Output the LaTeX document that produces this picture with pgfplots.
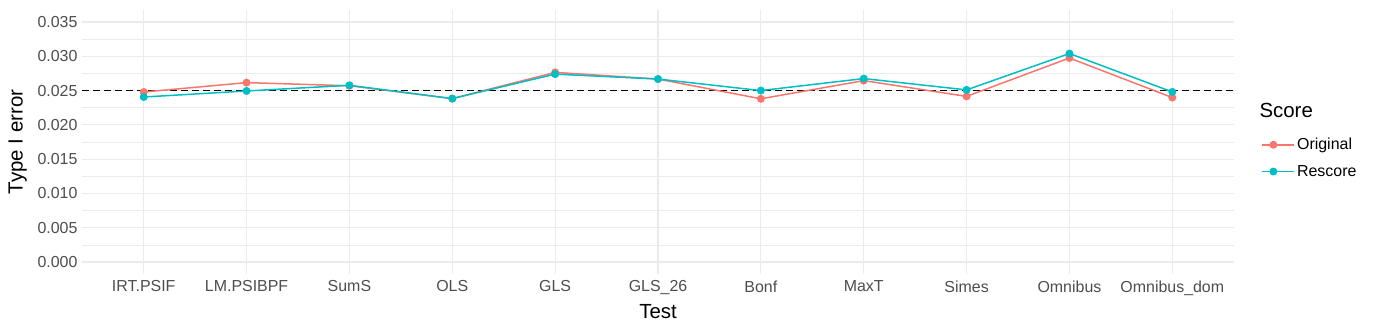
\documentclass[border=0pt]{standalone}
\usepackage{pgfplots}
\pgfplotsset{compat=1.18}
\usepackage{fontspec}
\setmainfont{Liberation Sans}
\definecolor{orig}{HTML}{F8766D}
\definecolor{resc}{HTML}{00BFC4}
\definecolor{gridc}{HTML}{EBEBEB}
\definecolor{tickc}{HTML}{4D4D4D}

\pgfplotstableread{
x orig resc
0 0.02479 0.02406
1 0.02616 0.02494
2 0.02570 0.02577
3 0.02383 0.02383
4 0.02765 0.02740
5 0.02668 0.02668
6 0.02380 0.02500
7 0.02645 0.02675
8 0.02415 0.02510
9 0.02975 0.03040
10 0.02398 0.02480
}\typeone

\begin{document}
\begin{tikzpicture}[x=1bp,y=1bp]
\path[use as bounding box] (0,0) rectangle (1375,330);
\begin{axis}[
  at={(82bp,56bp)}, anchor=south west, scale only axis,
  width=1152bp, height=264bp,
  xmin=-0.6, xmax=10.6, ymin=-0.00175, ymax=0.03675,
  xtick={0,...,10},
  xticklabels={IRT.PSIF,LM.PSIBPF,SumS,OLS,GLS,GLS\_26,Bonf,MaxT,Simes,Omnibus,Omnibus\_dom},
  ytick={0,0.005,0.010,0.015,0.020,0.025,0.030,0.035},
  minor ytick={0.0025,0.0075,0.0125,0.0175,0.0225,0.0275,0.0325},
  scaled y ticks=false,
  /pgf/number format/fixed,
  /pgf/number format/fixed zerofill,
  /pgf/number format/precision=3,
  /pgf/number format/assume math mode=true,
  xticklabel style={font=\fontsize{16}{19}\selectfont, text=tickc, yshift=-3bp},
  yticklabel style={font=\fontsize{16}{19}\selectfont, text=tickc, xshift=-1bp},
  axis line style={draw=none},
  major tick length=0pt, minor tick length=0pt,
  grid=both,
  major grid style={gridc, line width=1.1bp},
  minor grid style={gridc, line width=0.55bp},
  xlabel={Test}, ylabel={Type I error},
  label style={font=\fontsize{20.5}{24}\selectfont},
  xlabel style={yshift=-2bp},
  ylabel style={yshift=4bp},
  legend style={draw=none, fill=none, at={(1.0212,0.53)}, anchor=north west,
    font=\fontsize{16}{19}\selectfont, row sep=10bp, legend cell align=left},
  legend image code/.code={
    \draw[#1, mark repeat=2, mark phase=2] plot coordinates {(0bp,0bp) (11bp,0bp) (22bp,0bp)};
    \path (22bp,0bp) -- (32bp,0bp);
  },
]
\addplot[black, line width=1.4bp, dash pattern=on 6.5bp off 4.5bp, forget plot] coordinates {(-0.6,0.025) (10.6,0.025)};
\addplot[orig, line width=1.5bp, mark=*, mark size=3.2bp, mark options={solid}] table[x=x,y=orig] {\typeone};
\addlegendentry{Original}
\addplot[resc, line width=1.5bp, mark=*, mark size=3.2bp, mark options={solid}] table[x=x,y=resc] {\typeone};
\addlegendentry{Rescore}
\end{axis}
\node[anchor=west, font=\fontsize{20.5}{24}\selectfont] at (1256bp,220bp) {Score};
\end{tikzpicture}
\end{document}
